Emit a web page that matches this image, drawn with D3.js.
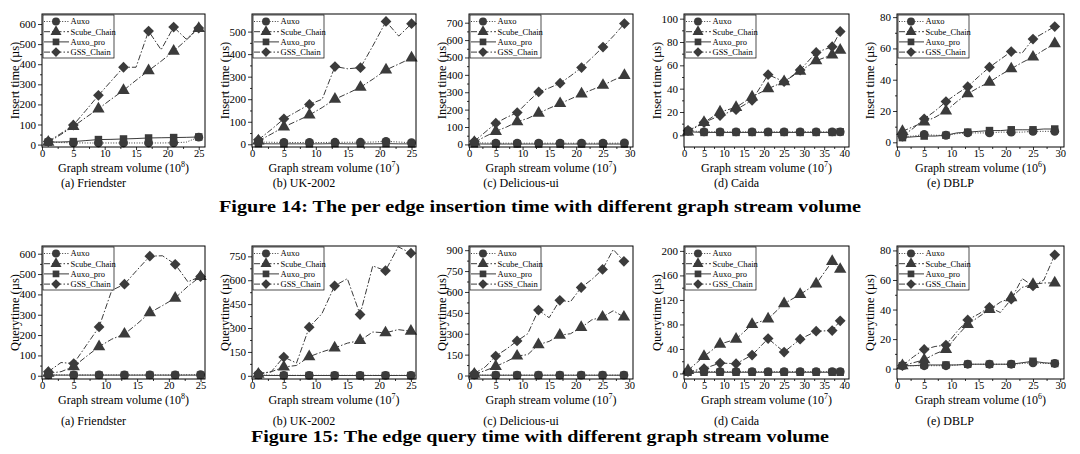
<!DOCTYPE html>
<html><head><meta charset="utf-8">
<script src="https://cdn.jsdelivr.net/npm/d3@7/dist/d3.min.js"></script>
<style>
body{margin:0;background:#fff}
svg{display:block}
text{font-family:"Liberation Serif","Times New Roman",serif;fill:#000}
</style>
</head><body>
<svg id="c" width="1080" height="454"></svg>
<script>
// ---------- categories / x values ----------
const seriesNames = ["Auxo", "Scube_Chain", "Auxo_pro", "GSS_Chain"];
const x25 = [1,3,5,7,9,11,13,15,17,19,21,23,25];
const x29 = [1,3,5,7,9,11,13,15,17,19,21,23,25,27,29];
const xCaida = [1,5,9,13,17,21,25,29,33,37,39];

// ---------- tick labels ----------
const xTicks25 = [0,5,10,15,20,25];
const xTicks30 = [0,5,10,15,20,25,30];
const xTicks40 = [0,5,10,15,20,25,30,35,40];
const yTicks600 = [0,100,200,300,400,500,600];
const yTicks500 = [0,100,200,300,400,500];
const yTicks700 = [0,100,200,300,400,500,600,700];
const yTicks100 = [0,20,40,60,80,100];
const yTicks80 = [0,20,40,60,80];
const yTicks750 = [0,150,300,450,600,750];
const yTicks900 = [0,150,300,450,600,750,900];
const yTicks200 = [0,40,80,120,160,200];

// ---------- Figure 14: insert time (µs) ----------
const insFriAuxo  = [15,10,9,8,8,8,8,8,8,8,9,12,37];
const insFriScube = [12,50,90,135,178,225,270,320,368,415,465,520,578];
const insFriPro   = [12,13,15,20,25,26,28,30,33,34,35,36,38];
const insFriGss   = [15,55,97,170,245,315,385,385,565,472,585,525,580];

const insUkAuxo  = [10,9,8,8,8,8,9,9,9,10,13,10,7];
const insUkScube = [15,45,77,103,130,163,200,226,253,290,330,356,383];
const insUkPro   = [3,2,2,2,2,2,3,2,2,2,3,2,2];
const insUkGss   = [20,65,113,145,177,200,345,335,340,440,545,480,535];

const insDelAuxo  = [10,8,7,7,7,7,7,7,7,7,7,7,7,7,8];
const insDelScube = [12,45,75,100,130,150,180,208,235,262,290,315,340,370,397];
const insDelPro   = [3,2,2,2,2,2,2,2,2,2,2,2,2,2,2];
const insDelGss   = [18,70,122,155,183,245,302,325,352,395,442,500,560,625,695];

const insCaiAuxo  = [4,3,3,3,3,3,3,3,3,3,3];
const insCaiScube = [3,11,20,24,33,40,46,55,64,69,73];
const insCaiPro   = [3,2.5,2.5,2.5,2.5,2.5,2.5,2.5,2.5,2.5,3];
const insCaiGss   = [4,11,17,22,30,52,46,56,71,76,89];

const insDbAuxo  = [3.5,4,5,4.5,4.5,5.5,6,6,6,6.5,6.5,6.5,7,7,7];
const insDbScube = [7,10,13,16,20,26,31,35,38.5,43,47,51,54.5,59,63];
const insDbPro   = [3,3.5,4,4,4.5,6,6.5,7,7.5,7.5,8,8,8,8.5,8.5];
const insDbGss   = [4,9,15,20,26,31,35.5,42,48,53,58,57,66,70,74];

// ---------- Figure 15: query time (µs) ----------
const qFriAuxo  = [5,4,4,4,4,4,4,4,4,4,4,5,5];
const qFriScube = [12,20,45,95,143,180,205,255,310,345,382,440,488];
const qFriPro   = [3,3,3,3,3,3,3,3,3,3,3,3,3];
const qFriGss   = [20,65,60,150,240,420,450,520,588,590,548,462,488];

const qUkAuxo  = [6,4,3,3,3,3,3,3,3,3,3,3,3];
const qUkScube = [10,25,55,65,120,150,175,205,222,275,270,290,280];
const qUkPro   = [3,2,2,2,2,2,2,2,2,2,2,2,2];
const qUkGss   = [15,25,118,80,305,390,565,610,385,690,660,810,770];

const qDelAuxo  = [4,3,3,3,3,3,3,3,3,3,3,3,3,3,3];
const qDelScube = [10,35,65,100,140,150,222,245,290,300,345,400,420,465,420];
const qDelPro   = [3,2,2,2,2,2,2,2,2,2,2,2,2,2,2];
const qDelGss   = [15,60,140,190,248,300,470,415,540,530,632,690,762,905,820];

const qCaiAuxo  = [3,3,3,3,3,3,3,3,3,3,3];
const qCaiScube = [5,28,48,56,80,89,114,129,146,183,170];
const qCaiPro   = [2,2,2,2,2,2,2,2,2,2,2];
const qCaiGss   = [3,8,17,16,30,57,35,56,69,70,86];

const qDbAuxo  = [2,2,2,2,2,2.5,3,3,3,3,3,3.5,4,3.5,3.5];
const qDbScube = [2,4,6,10,13,22,30,35,40,45,48,55,57,58,58];
const qDbPro   = [2,2,2.5,2.5,2.5,2.5,3,3,3,3,3,4,5,4,3.5];
const qDbGss   = [2,8,13,15,16,25,33,37,41.5,38,47,61,56,60,77];

const subCaptions = ["(a)  Friendster", "(b)  UK-2002", "(c)  Delicious-ui", "(d)  Caida", "(e)  DBLP"];
const exps = ["8", "7", "7", "7", "6"];
const yLabels = ["Insert time (µs)", "Querytime (µs)"];
const captions = ["Figure 14: The per edge insertion time with different graph stream volume",
                  "Figure 15: The edge query time with different graph stream volume"];

// ---------- layout ----------
const boxLeft  = [42, 252, 469, 684, 897];
const boxRight = [205, 416, 633, 849, 1064];
const rowTop = [14, 246];
const rowBottom = [147, 379];

const panels = [
  {row:0,col:0,x:x25,every:2,s:[insFriAuxo,insFriScube,insFriPro,insFriGss],yd:[-12,650],yt:yTicks600,xmax:26,xt:xTicks25},
  {row:0,col:1,x:x25,every:2,s:[insUkAuxo,insUkScube,insUkPro,insUkGss],yd:[-12,578],yt:yTicks500,xmax:25.7,xt:xTicks25},
  {row:0,col:2,x:x29,every:2,s:[insDelAuxo,insDelScube,insDelPro,insDelGss],yd:[-15,750],yt:yTicks700,xmax:30.6,xt:xTicks30},
  {row:0,col:3,x:xCaida,every:1,s:[insCaiAuxo,insCaiScube,insCaiPro,insCaiGss],yd:[-10,104],yt:yTicks100,xmax:41.2,xt:xTicks40},
  {row:0,col:4,x:x29,every:2,s:[insDbAuxo,insDbScube,insDbPro,insDbGss],yd:[-3,82],yt:yTicks80,xmax:30.7,xt:xTicks30},
  {row:1,col:0,x:x25,every:2,s:[qFriAuxo,qFriScube,qFriPro,qFriGss],yd:[-16,638],yt:yTicks600,xmax:25.7,xt:xTicks25},
  {row:1,col:1,x:x25,every:2,s:[qUkAuxo,qUkScube,qUkPro,qUkGss],yd:[-20,815],yt:yTicks750,xmax:25.8,xt:xTicks25},
  {row:1,col:2,x:x29,every:2,s:[qDelAuxo,qDelScube,qDelPro,qDelGss],yd:[-25,930],yt:yTicks900,xmax:30.7,xt:xTicks30},
  {row:1,col:3,x:xCaida,every:1,s:[qCaiAuxo,qCaiScube,qCaiPro,qCaiGss],yd:[-9,208],yt:yTicks200,xmax:41.2,xt:xTicks40},
  {row:1,col:4,x:x29,every:2,s:[qDbAuxo,qDbScube,qDbPro,qDbGss],yd:[-7,83],yt:yTicks80,xmax:30.7,xt:xTicks30}
];

const INK = "#3b3b3b";
const styles = [
  {shape:d3.symbolCircle,   size:62, dash:"1,1.6",     rot:0},
  {shape:d3.symbolTriangle, size:66, dash:"6,2,1.5,2", rot:0},
  {shape:d3.symbolSquare,   size:56, dash:null,        rot:0},
  {shape:d3.symbolSquare,   size:58, dash:"6,2,1.5,2", rot:45}
];

const svg = d3.select("#c");
svg.append("rect").attr("width",1080).attr("height",454).attr("fill","#fff");

function mid(t){ const m=[]; for(let i=0;i<t.length-1;i++) m.push((t[i]+t[i+1])/2); return m; }

panels.forEach(p => {
  const L = boxLeft[p.col], R = boxRight[p.col], T = rowTop[p.row], B = rowBottom[p.row];
  const x = d3.scaleLinear().domain([0, p.xmax]).range([L, R]);
  const y = d3.scaleLinear().domain(p.yd).range([B, T]);
  const g = svg.append("g");

  // axes
  g.append("g").attr("transform",`translate(${L},0)`)
    .call(d3.axisLeft(y).tickValues(p.yt).tickSize(4).tickPadding(2).tickFormat(d3.format("d")));
  g.append("g").attr("transform",`translate(${L},0)`)
    .call(d3.axisLeft(y).tickValues(mid(p.yt)).tickSize(2).tickFormat(""));
  g.append("g").attr("class","xa").attr("transform",`translate(0,${B})`)
    .call(d3.axisBottom(x).tickValues(p.xt).tickSize(3).tickPadding(0).tickFormat(d3.format("d")));
  g.append("g").attr("transform",`translate(0,${B})`)
    .call(d3.axisBottom(x).tickValues(mid(p.xt)).tickSize(2).tickFormat(""));
  g.selectAll(".domain").remove();
  g.selectAll(".tick line").attr("stroke","#000").attr("stroke-width",0.8);
  g.selectAll(".tick text").style("font-size","11px").attr("fill","#000");
  g.selectAll(".xa .tick text").style("font-size","10.5px");

  // series lines + markers
  const line = d3.line().x((d,i)=>x(p.x[i])).y(d=>y(d));
  [0,2,1,3].forEach(si => {
    const st = styles[si], vals = p.s[si];
    g.append("path").attr("d", line(vals)).attr("fill","none")
      .attr("stroke", INK).attr("stroke-width", 1)
      .attr("stroke-dasharray", st.dash);
    g.selectAll(null).data(vals.filter((v,i)=>i % p.every === 0)).enter()
      .append("path")
      .attr("d", d3.symbol().type(st.shape).size(st.size))
      .attr("transform", (d,i)=>`translate(${x(p.x[i*p.every])},${y(d)}) rotate(${st.rot})`)
      .attr("fill", INK);
  });

  // frame
  g.append("rect").attr("x",L).attr("y",T).attr("width",R-L).attr("height",B-T)
    .attr("fill","none").attr("stroke","#000").attr("stroke-width",1);

  // legend
  const lg = g.append("g").attr("transform",`translate(${L+1},${T+1})`);
  lg.append("rect").attr("width",71).attr("height",43).attr("fill","#fff")
    .attr("stroke","#000").attr("stroke-width",0.7);
  seriesNames.forEach((n,k) => {
    const st = styles[k], yy = 6.5 + k*10.2;
    lg.append("line").attr("x1",1).attr("x2",26).attr("y1",yy).attr("y2",yy)
      .attr("stroke",INK).attr("stroke-width",1).attr("stroke-dasharray", st.dash);
    lg.append("path").attr("d", d3.symbol().type(st.shape).size(st.size*0.8))
      .attr("transform",`translate(13,${yy}) rotate(${st.rot})`).attr("fill",INK);
    lg.append("text").attr("x",27.5).attr("y",yy+2.8).style("font-size","8.5px").text(n);
  });

  // axis labels
  g.append("text").attr("transform",`translate(${L-23},${(T+B)/2}) rotate(-90)`)
    .attr("text-anchor","middle").style("font-size","12.5px").text(yLabels[p.row]);
  const xl = g.append("text").attr("x",(L+R)/2).attr("y",B+24.5).attr("text-anchor","middle").style("font-size","12px");
  xl.append("tspan").text("Graph stream volume (10");
  xl.append("tspan").attr("dy",-4.5).style("font-size","8px").text(exps[p.col]);
  xl.append("tspan").attr("dy",4.5).text(")");

  // sub caption
  svg.append("text").attr("x",(L+R)/2 - 30).attr("y", p.row===0 ? 187 : 425)
    .attr("text-anchor","middle").style("font-size","12px").text(subCaptions[p.col]);
});

// figure captions
svg.append("text").attr("x",540).attr("y",212).attr("text-anchor","middle")
  .attr("textLength",642).attr("lengthAdjust","spacingAndGlyphs")
  .style("font-size","17px").style("font-weight","bold").text(captions[0]);
svg.append("text").attr("x",540).attr("y",442).attr("text-anchor","middle")
  .attr("textLength",578).attr("lengthAdjust","spacingAndGlyphs")
  .style("font-size","17px").style("font-weight","bold").text(captions[1]);
</script>
</body></html>
